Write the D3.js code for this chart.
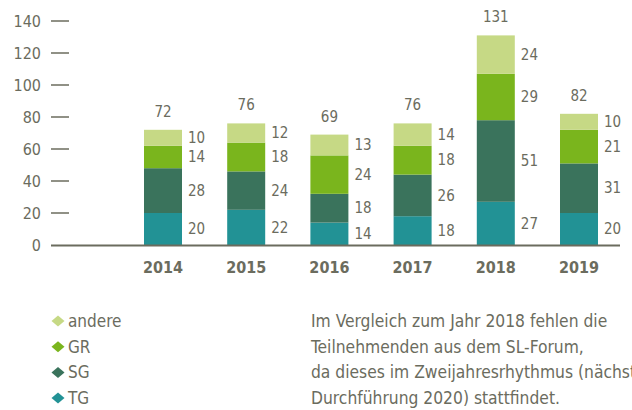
<!DOCTYPE html>
<html lang="de">
<head>
<meta charset="utf-8">
<script src="https://cdn.jsdelivr.net/npm/d3@7"></script>
<style>
  body { margin: 0; background: #fff; }
  svg { display: block; }
  text { font-family: "Liberation Sans Narrow", "DejaVu Sans Condensed", "Open Sans", sans-serif; fill: #6b6c5e; }
</style>
</head>
<body>
<svg id="chart" width="632" height="410"></svg>
<script>
// data
var years = ["2014", "2015", "2016", "2017", "2018", "2019"];
var TG = [20, 22, 14, 18, 27, 20];
var SG = [28, 24, 18, 26, 51, 31];
var GR = [14, 18, 24, 18, 29, 21];
var andere = [10, 12, 13, 14, 24, 10];
var totals = [72, 76, 69, 76, 131, 82];
var yTicks = [0, 20, 40, 60, 80, 100, 120, 140];

var seriesNames = ["TG", "SG", "GR", "andere"];
var colors = {TG: "#229295", SG: "#3a735c", GR: "#7ab51d", andere: "#c6d985"};
var legendOrder = ["andere", "GR", "SG", "TG"];
var note = [
  "Im Vergleich zum Jahr 2018 fehlen die",
  "Teilnehmenden aus dem SL-Forum,",
  "da dieses im Zweijahresrhythmus (nächste",
  "Durchführung 2020) stattfindet."
];

var rows = years.map(function(y, i) {
  return {year: y, TG: TG[i], SG: SG[i], GR: GR[i], andere: andere[i], total: totals[i]};
});

var svg = d3.select("#chart");
var ink = "#6b6c5e";

var y = d3.scaleLinear().domain([0, 140]).range([245, 21]);
var x = d3.scalePoint().domain(years).range([163, 579]);
var barW = 38;

// y ticks
var yg = svg.append("g");
yg.selectAll("line").data(yTicks.filter(function(d) { return d > 0; })).enter().append("line")
  .attr("x1", 51).attr("x2", 69)
  .attr("y1", function(d) { return y(d); })
  .attr("y2", function(d) { return y(d); })
  .attr("stroke", ink).attr("stroke-width", 1.5);
yg.selectAll("text").data(yTicks).enter().append("text")
  .attr("x", 41).attr("y", function(d) { return y(d); })
  .attr("dy", "0.35em").attr("text-anchor", "end")
  .attr("font-size", 16)
  .text(function(d) { return d; });

// stacked bars
var stack = d3.stack().keys(seriesNames)(rows);
var layers = svg.append("g").selectAll("g").data(stack).enter().append("g")
  .attr("fill", function(d) { return colors[d.key]; });
layers.selectAll("rect").data(function(d) { return d; }).enter().append("rect")
  .attr("x", function(d) { return x(d.data.year) - barW / 2; })
  .attr("width", barW)
  .attr("y", function(d) { return y(d[1]); })
  .attr("height", function(d) { return y(d[0]) - y(d[1]); });

// segment labels
var labels = svg.append("g").selectAll("g").data(stack).enter().append("g");
labels.selectAll("text").data(function(d) { return d; }).enter().append("text")
  .attr("x", function(d) { return x(d.data.year) + barW / 2 + 6; })
  .attr("y", function(d) { return y((d[0] + d[1]) / 2); })
  .attr("dy", "0.35em")
  .attr("font-size", 15)
  .text(function(d) { return d[1] - d[0]; });

// totals
svg.append("g").selectAll("text").data(rows).enter().append("text")
  .attr("x", function(d) { return x(d.year); })
  .attr("y", function(d) { return y(d.TG + d.SG + d.GR + d.andere) - 13; })
  .attr("text-anchor", "middle")
  .attr("font-size", 15)
  .text(function(d) { return d.total; });

// baseline
svg.append("line")
  .attr("x1", 51).attr("x2", 620)
  .attr("y1", y(0) + 0.5).attr("y2", y(0) + 0.5)
  .attr("stroke", ink).attr("stroke-width", 2);

// year labels
svg.append("g").selectAll("text").data(years).enter().append("text")
  .attr("x", function(d) { return x(d); })
  .attr("y", 273)
  .attr("text-anchor", "middle")
  .attr("font-size", 16).attr("font-weight", "bold")
  .text(function(d) { return d; });

// legend
var leg = svg.append("g").selectAll("g").data(legendOrder).enter().append("g")
  .attr("transform", function(d, i) { return "translate(58," + (321 + i * 25.7) + ")"; });
leg.append("path")
  .attr("d", "M0,-5.5L6.5,0L0,5.5L-6.5,0Z")
  .attr("fill", function(d) { return colors[d]; });
leg.append("text")
  .attr("x", 10).attr("dy", "0.35em")
  .attr("font-size", 17)
  .text(function(d) { return d; });

// note
svg.append("g").selectAll("text").data(note).enter().append("text")
  .attr("x", 311).attr("y", function(d, i) { return 321 + i * 25.7; })
  .attr("dy", "0.35em")
  .attr("font-size", 17.3)
  .text(function(d) { return d; });
</script>
</body>
</html>
